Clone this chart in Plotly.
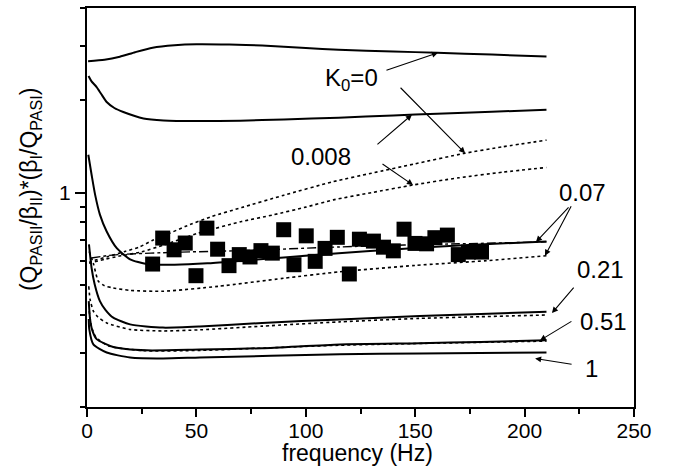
import numpy as np
import plotly.graph_objects as go

# ---------------- data ----------------
# K0 = 0 (solid)
f_k0_s = [0.5, 8, 15, 22, 30, 40, 50, 65, 80, 100, 115, 140, 160, 185, 210]
v_k0_s = [2.683, 2.713, 2.775, 2.870, 2.968, 3.024, 3.047, 3.040, 3.017, 2.961, 2.924, 2.885, 2.859, 2.820, 2.779]
# K0 = 0.008 (solid)
f_k008_s = [0.7, 2, 4.4, 6.5, 9, 12.5, 16.6, 25.8, 35, 50, 70, 90, 115, 140, 160, 185, 210]
v_k008_s = [2.399, 2.310, 2.209, 2.097, 1.975, 1.888, 1.832, 1.746, 1.720, 1.711, 1.717, 1.733, 1.756, 1.785, 1.808, 1.835, 1.864]
# K0 = 0 (dotted)
f_k0_d = [1, 2.1, 10, 17.4, 24, 29.6, 37, 44.8, 57, 70.7, 90, 112.6, 130, 150, 172, 190, 210]
v_k0_d = [0.592, 0.597, 0.620, 0.643, 0.665, 0.697, 0.733, 0.775, 0.836, 0.894, 0.981, 1.086, 1.157, 1.242, 1.341, 1.411, 1.483]
# K0 = 0.008 (dotted)
f_k008_d = [1, 2.1, 8, 14.3, 25, 35, 50.9, 70.7, 85, 100, 112.6, 130, 149, 170, 190, 210]
v_k008_d = [0.588, 0.592, 0.606, 0.620, 0.641, 0.675, 0.738, 0.805, 0.846, 0.897, 0.947, 1.000, 1.059, 1.118, 1.166, 1.208]
# fit through the data (dash-dot)
f_fit = [2, 10, 17.4, 40, 70.7, 115, 145, 170, 210]
v_fit = [0.612, 0.624, 0.630, 0.639, 0.647, 0.665, 0.675, 0.681, 0.691]
# K0 = 0.07 (solid / dotted)
f_k07_s = [0.6, 2.1, 3.7, 5.9, 9, 13.6, 19.7, 27.3, 40, 55, 70.7, 90, 115, 140, 170, 210]
v_k07_s = [1.329, 1.144, 0.985, 0.848, 0.747, 0.659, 0.606, 0.585, 0.582, 0.588, 0.600, 0.615, 0.634, 0.653, 0.673, 0.693]
f_k07_d = [1, 2.9, 5.2, 8, 12, 19.7, 35, 60, 90, 115.6, 150, 182.6, 210]
v_k07_d = [0.643, 0.588, 0.514, 0.497, 0.489, 0.480, 0.477, 0.495, 0.526, 0.552, 0.579, 0.600, 0.623]
# K0 = 0.21 (solid / dotted)
f_k21_s = [0.9, 2.1, 3.5, 5.9, 8.5, 12, 19.7, 34.7, 51.6, 80, 115.6, 152, 180, 210]
v_k21_s = [0.678, 0.568, 0.503, 0.443, 0.414, 0.391, 0.372, 0.363, 0.366, 0.376, 0.386, 0.396, 0.402, 0.409]
f_k21_d = [0.8, 1.4, 2.9, 5, 9, 19.7, 34.7, 51.6, 80, 115.6, 152, 180, 210]
v_k21_d = [0.495, 0.449, 0.411, 0.393, 0.376, 0.358, 0.354, 0.357, 0.367, 0.379, 0.389, 0.394, 0.399]
# K0 = 0.51 (solid / dotted)
f_k51_s = [0.8, 1.4, 2.5, 4.4, 12, 27.3, 51.6, 80, 115.6, 152, 180, 210]
v_k51_s = [0.443, 0.387, 0.354, 0.333, 0.314, 0.306, 0.308, 0.311, 0.320, 0.323, 0.326, 0.330]
f_k51_d = [1, 2, 4, 10, 27, 52, 115, 210]
v_k51_d = [0.411, 0.367, 0.338, 0.316, 0.305, 0.306, 0.318, 0.328]
# K0 = 1 (solid)
f_k1_s = [0.8, 1.05, 2.9, 9, 19.7, 34.7, 51.6, 115.6, 152, 210]
v_k1_s = [0.387, 0.358, 0.320, 0.301, 0.290, 0.288, 0.290, 0.297, 0.299, 0.301]
# measured points
f_meas = [30.0, 34.6, 39.8, 44.9, 49.8, 54.8, 59.7, 64.9, 69.6, 74.5, 79.5, 84.7, 89.9, 94.6,
          100.2, 104.3, 108.8, 114.4, 119.9, 124.5, 130.9, 135.5, 140.0, 144.9, 149.9, 155.2,
          159.0, 164.7, 169.7, 174.3, 180.3]
v_meas = [0.585, 0.711, 0.651, 0.685, 0.536, 0.766, 0.654, 0.578, 0.628, 0.617, 0.647, 0.635, 0.757,
          0.582, 0.723, 0.597, 0.658, 0.715, 0.543, 0.705, 0.695, 0.664, 0.646, 0.760, 0.683, 0.681,
          0.713, 0.727, 0.628, 0.640, 0.640]

x_ticks = [0, 50, 100, 150, 200, 250]
y_major = [1]
y_minor = [0.2, 0.3, 0.4, 0.5, 0.6, 0.7, 0.8, 0.9, 2, 3, 4]

FONT = "Liberation Sans, Arial, Helvetica, sans-serif"
BLACK = "black"

fig = go.Figure()

def line(fx, vy, dash="solid", width=2.0):
    fig.add_trace(go.Scatter(x=fx, y=vy, mode="lines", line=dict(color=BLACK, width=width, dash=dash, shape="spline", smoothing=0.6),
                             showlegend=False, hoverinfo="skip"))

line(f_k0_s, v_k0_s)
line(f_k008_s, v_k008_s)
line(f_k0_d, v_k0_d, "dot", 1.6)
line(f_k008_d, v_k008_d, "dot", 1.6)
line(f_fit, v_fit, "dashdot", 1.4)
line(f_k07_s, v_k07_s)
line(f_k07_d, v_k07_d, "dot", 1.6)
line(f_k21_s, v_k21_s)
line(f_k21_d, v_k21_d, "dot", 1.6)
line(f_k51_d, v_k51_d, "dot", 1.6)
line(f_k51_s, v_k51_s)
line(f_k1_s, v_k1_s)

fig.add_trace(go.Scatter(x=f_meas, y=v_meas, mode="markers",
                         marker=dict(symbol="square", size=15, color=BLACK, line=dict(width=0)),
                         showlegend=False, hoverinfo="skip"))

def head(fx, vy, f):
    return f, float(np.log10(np.interp(f, fx, vy)))

arrows = [
    (head(f_k0_s, v_k0_s, 160.4), -53, 18),
    (head(f_k0_d, v_k0_d, 172.8), -66, -67),
    (head(f_k008_s, v_k008_s, 148.5), -36, 31),
    (head(f_k008_d, v_k008_d, 149.0), -32, -22),
    (head(f_k07_s, v_k07_s, 205.2), 34, -36),
    (head(f_k07_d, v_k07_d, 209.3), 27, -51),
    ((212.5, float(np.log10(0.405))), 23, -27),
    (head(f_k51_s, v_k51_s, 207.0), 33, -20),
    ((204.8, float(np.log10(0.288))), 38, 6),
]
annotations = []
for (hx, hy), ax, ay in arrows:
    annotations.append(dict(x=hx, y=hy, xref="x", yref="y", ax=ax, ay=ay, text="",
                            showarrow=True, arrowhead=2, arrowsize=1.1, arrowwidth=1.1,
                            arrowcolor=BLACK, standoff=0, startstandoff=0))

labels = [
    ("K<sub>0</sub>=0", 351, 78),
    ("0.008", 321, 155),
    ("0.07", 582, 191),
    ("0.21", 600, 268.5),
    ("0.51", 603, 321),
    ("1", 591, 368),
]
L, R, T, B = 87, 634, 6, 407
for txt, px, py in labels:
    annotations.append(dict(x=(px - L) / (R - L), y=(B - py) / (B - T), xref="paper", yref="paper",
                            text=txt, showarrow=False, xanchor="center", yanchor="middle",
                            font=dict(family=FONT, size=24, color=BLACK)))

annotations.append(dict(x=(30 - L) / (R - L), y=(B - 188) / (B - T), xref="paper", yref="paper",
                        text="(Q<sub>PASII</sub>/β<sub>II</sub>)*(β<sub>I</sub>/Q<sub>PASI</sub>)",
                        textangle=-90, showarrow=False, xanchor="center", yanchor="middle",
                        font=dict(family=FONT, size=23, color=BLACK)))
annotations.append(dict(x=(357 - L) / (R - L), y=(B - 453) / (B - T), xref="paper", yref="paper",
                        text="frequency (Hz)", showarrow=False, xanchor="center", yanchor="middle",
                        font=dict(family=FONT, size=23, color=BLACK)))

fig.update_layout(
    width=679, height=468,
    margin=dict(l=L, r=679 - R, t=T, b=468 - B),
    paper_bgcolor="white", plot_bgcolor="white",
    font=dict(family=FONT, size=22, color=BLACK),
    annotations=annotations,
    xaxis=dict(range=[0, 250], tickmode="array", tickvals=x_ticks, ticks="outside", ticklen=8,
               tickwidth=1.5, tickcolor=BLACK, showline=True, linewidth=2, linecolor=BLACK,
               mirror=True, showgrid=False, zeroline=False, ticklabelstandoff=-4,
               tickfont=dict(family=FONT, size=21, color=BLACK),
               minor=dict(dtick=25, ticks="outside", ticklen=5, tickwidth=1.5, tickcolor=BLACK, showgrid=False)),
    yaxis=dict(type="log", range=[np.log10(0.2), np.log10(4)], tickmode="array", tickvals=y_major,
               ticktext=["1"], ticks="outside", ticklen=10, tickwidth=1.5, tickcolor=BLACK,
               showline=True, linewidth=2, linecolor=BLACK, mirror=True, showgrid=False, zeroline=False,
               tickfont=dict(family=FONT, size=21, color=BLACK),
               minor=dict(tickmode="array", tickvals=y_minor, ticks="outside", ticklen=5, tickwidth=1.5,
                          tickcolor=BLACK, showgrid=False)),
)

fig.write_html("out.html", config={"displayModeBar": False},
               post_script="document.body.style.margin='0px';document.body.style.overflow='hidden';")
